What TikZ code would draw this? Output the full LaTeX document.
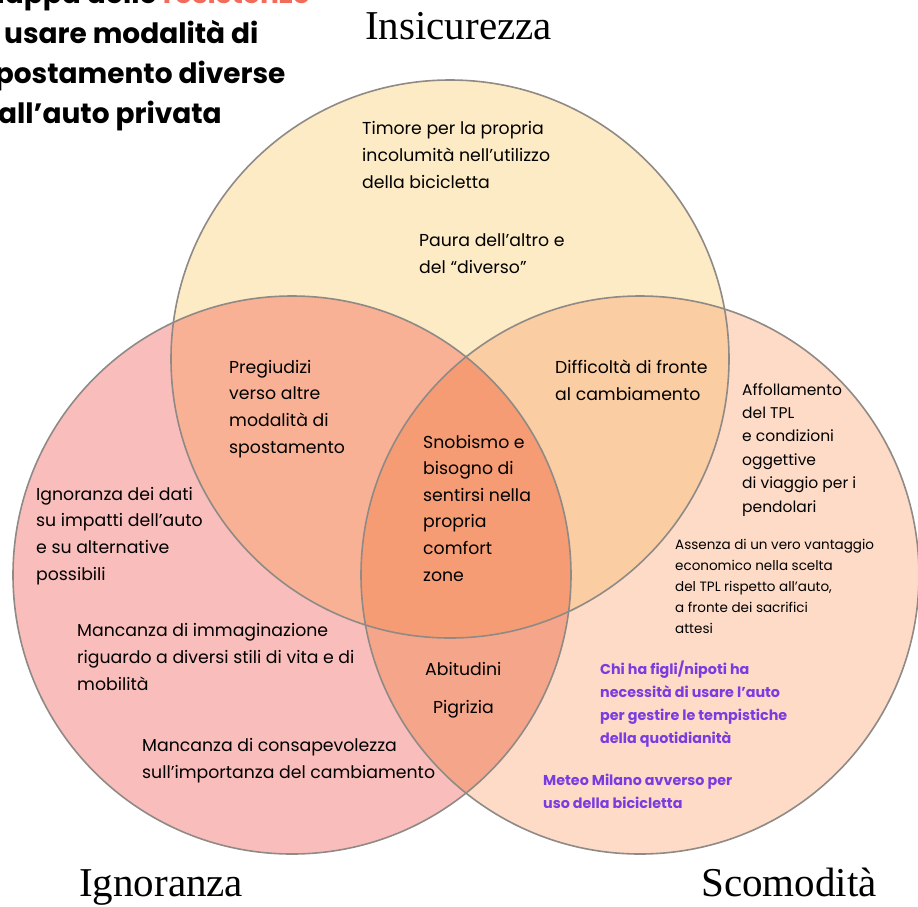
\documentclass[tikz,border=0pt]{standalone}
\usepackage{fontspec}
\setmainfont{Poppins}
\newfontfamily\headfont{Liberation Serif}
\usetikzlibrary{positioning}

\definecolor{insfill}{HTML}{FCEBC5}
\definecolor{ignfill}{HTML}{F9BDBB}
\definecolor{scofill}{HTML}{FDDBC7}
\definecolor{insign}{HTML}{F8B195}
\definecolor{inssco}{HTML}{FBCDA2}
\definecolor{ignsco}{HTML}{F5A68A}
\definecolor{allfill}{HTML}{F59C74}
\definecolor{rim}{HTML}{8F8A85}
\definecolor{resred}{HTML}{F26B5B}
\definecolor{viola}{HTML}{7A3CE0}

% multi-line nodes: base = baseline of the last line
\tikzset{
  body/.style={anchor=base west, align=left, inner sep=0pt,
    font=\fontsize{17.3}{26.6}\selectfont},
  small/.style={body, font=\fontsize{15.5}{23.4}\selectfont},
  tiny/.style={body, font=\fontsize{13.5}{21}\selectfont},
  viol/.style={body, text=viola, font=\fontsize{14.3}{22.7}\selectfont\bfseries},
  head/.style={anchor=base west, inner sep=0pt,
    font=\headfont\fontsize{41}{41}\selectfont},
  rimline/.style={draw=rim, line width=1.6pt},
}

\begin{document}
\begin{tikzpicture}[x=1pt,y=-1pt]
        \useasboundingbox (0,0) rectangle (918,906);
        \clip (0,0) rectangle (918,906);

        % centres
        \coordinate (ins) at (450,359);
        \coordinate (ign) at (292,575);
        \coordinate (sco) at (640,575);

        % base fills
        \fill[insfill] (ins) circle (279);
        \fill[ignfill] (ign) circle (279);
        \fill[scofill] (sco) circle (279);

        % overlaps
        \begin{scope}
          \clip (ins) circle (279);
          \fill[insign] (ign) circle (279);
          \fill[inssco] (sco) circle (279);
        \end{scope}
        \begin{scope}
          \clip (ign) circle (279);
          \fill[ignsco] (sco) circle (279);
          \clip (ins) circle (279);
          \fill[allfill] (sco) circle (279);
        \end{scope}

        % rims
        \draw[rimline] (ins) circle (279);
        \draw[rimline] (ign) circle (279);
        \draw[rimline] (sco) circle (279);

        % title (cut by the page edge)
        \node[anchor=base west, align=left, inner sep=0pt,
          font=\fontsize{28}{40}\selectfont\bfseries] (title) at (-21,123)
          {Mappa delle \textcolor{resred}{resistenze}\\a usare modalità di\\spostamento diverse\\dall’auto privata};

        % headings
        \node[head] (hins) at (365,39) {Insicurezza};
        \node[head] (hign) at (79,896) {Ignoranza};
        \node[head] (hsco) at (701,896) {Scomodità};

        % insicurezza
        \node[body] (timore) at (362,188) {Timore per la propria\\incolumità nell’utilizzo\\della bicicletta};
        \node[body] (paura) at (419,273) {Paura dell’altro e\\del “diverso”};

        % overlaps
        \node[body] (preg) at (229,453) {Pregiudizi\\verso altre\\modalità di\\spostamento};
        \node[body] (diff) at (555,400) {Difficoltà di fronte\\al cambiamento};
        \node[body] (snob) at (423,581) {Snobismo e\\bisogno di\\sentirsi nella\\propria\\comfort\\zone};
        \node[body] (abit) at (425,675) {Abitudini};
        \node[body] (pigr) at (433,713) {Pigrizia};

        % ignoranza
        \node[body] (dati) at (36,580) {Ignoranza dei dati\\su impatti dell’auto\\e su alternative\\possibili};
        \node[body] (immag) at (77,690) {Mancanza di immaginazione\\riguardo a diversi stili di vita e di\\mobilità};
        \node[body] (consap) at (142,778) {Mancanza di consapevolezza\\sull’importanza del cambiamento};

        % scomodita
        \node[small] (affol) at (742,512) {Affollamento\\del TPL\\e condizioni\\oggettive\\di viaggio per i\\pendolari};
        \node[tiny] (assenza) at (675,633) {Assenza di un vero vantaggio\\economico nella scelta\\del TPL rispetto all’auto,\\a fronte dei sacrifici\\attesi};
        \node[viol] (figli) at (600,743) {Chi ha figli/nipoti ha\\necessità di usare l’auto\\per gestire le tempistiche\\della quotidianità};
        \node[viol] (meteo) at (543,808) {Meteo Milano avverso per\\uso della bicicletta};

      \end{tikzpicture}
\end{document}
